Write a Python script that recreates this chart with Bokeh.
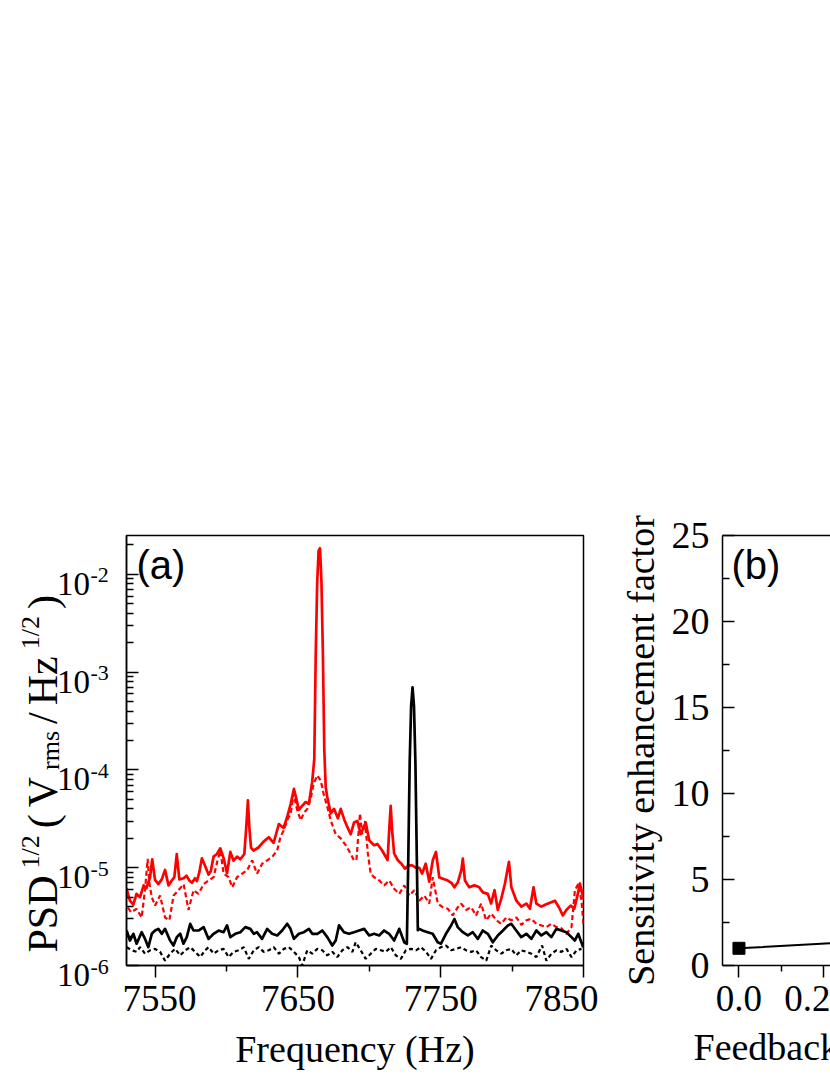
import math
from bokeh.plotting import figure
from bokeh.layouts import row, column
from bokeh.models import FixedTicker, Label, LinearAxis, PrintfTickFormatter, Title
from bokeh.core.properties import value
from bokeh.embed import file_html
from bokeh.resources import INLINE

SERIF = "Liberation Serif"
SANS = "Liberation Sans"

# ---------------- data: panel (a) ----------------
RED_SOLID_F = [7530, 7532.4, 7534.8, 7537, 7539.5, 7542, 7544, 7546.5, 7548, 7550, 7552.3, 7554.7, 7557,
               7559.4, 7561.7, 7563.5, 7565.2, 7567, 7570, 7572, 7574, 7575.8, 7578, 7579.3, 7581, 7582.8,
               7585, 7587.5, 7589, 7591, 7593.3, 7595.7, 7598, 7600.4, 7602.7, 7605, 7607.4, 7609.7, 7612.5,
               7614, 7615, 7616, 7617.2, 7619, 7622.6, 7626, 7629.6, 7633, 7636.7, 7640, 7642.5, 7645,
               7647.2, 7648.8, 7650.7, 7653, 7655.4, 7657.7, 7660, 7661.5, 7662.5, 7663.5, 7664.5, 7665.5,
               7666.5, 7667.5, 7668.5, 7669.5, 7670.6, 7673, 7675.3, 7678, 7680, 7682.5, 7684.7, 7687,
               7689.3, 7691.7, 7694, 7697.5, 7700, 7703.4, 7705.7, 7709, 7712.8, 7714, 7715, 7716, 7717.4,
               7720, 7722.5, 7725, 7727.5, 7730, 7732.5, 7735, 7737, 7739.5, 7742, 7744.5, 7746.7, 7749,
               7751.5, 7755, 7757.5, 7759.6, 7762, 7764.5, 7765.5, 7767, 7770, 7773.6, 7777, 7779.5, 7783,
               7785.3, 7787.7, 7790, 7792.4, 7795, 7797.8, 7799.5, 7803, 7806.5, 7810, 7812.5, 7815, 7817,
               7820.5, 7823.5, 7827, 7830, 7833, 7835.5, 7838, 7841, 7843.5, 7845.5, 7847.5, 7850]
RED_SOLID_V = [6.1e-6, 4.6e-6, 4.2e-6, 5.4e-6, 5.0e-6, 6.6e-6, 6.2e-6, 8.0e-6, 1.22e-5, 7.5e-6, 6.8e-6, 7.6e-6,
               9.5e-6, 6.6e-6, 7.4e-6, 8.0e-6, 1.38e-5, 7.6e-6, 7.8e-6, 8.3e-6, 7.4e-6, 7.0e-6, 7.8e-6, 7.3e-6,
               9.0e-6, 1.25e-5, 1.05e-5, 8.5e-6, 9.2e-6, 1.3e-5, 1.38e-5, 1.58e-5, 1.25e-5, 8.8e-6, 1.45e-5,
               1.18e-5, 1.3e-5, 1.22e-5, 1.38e-5, 2.8e-5, 4.9e-5, 2.6e-5, 1.6e-5, 1.5e-5, 1.62e-5, 1.85e-5,
               2.05e-5, 1.8e-5, 2.8e-5, 2.55e-5, 3.3e-5, 4.5e-5, 6.4e-5, 5.2e-5, 3.9e-5, 4.3e-5, 4.7e-5,
               4.5e-5, 7.5e-5, 1.3e-4, 1.5e-3, 8.0e-3, 1.75e-2, 1.85e-2, 8.5e-3, 1.6e-3, 1.6e-4, 6.6e-5,
               5.3e-5, 3.6e-5, 4.0e-5, 3.2e-5, 4.0e-5, 3.1e-5, 2.6e-5, 2.2e-5, 2.9e-5, 3.0e-5, 2.2e-5,
               2.9e-5, 1.9e-5, 1.7e-5, 1.75e-5, 1.5e-5, 1.2e-5, 2.5e-5, 4.3e-5, 2.4e-5, 1.4e-5, 1.19e-5,
               1.1e-5, 9.8e-6, 1.05e-5, 1.06e-5, 1.0e-5, 1.0e-5, 8.7e-6, 1.1e-5, 7.2e-6, 1.2e-5, 1.45e-5,
               8.0e-6, 7.7e-6, 7.4e-6, 7.0e-6, 6.3e-6, 7.1e-6, 9.5e-6, 1.24e-5, 7.4e-6, 6.3e-6, 6.6e-6,
               6.3e-6, 5.6e-6, 5.4e-6, 4.3e-6, 5.9e-6, 3.7e-6, 4.8e-6, 6.9e-6, 1.15e-5, 6.3e-6, 4.6e-6,
               4.0e-6, 4.3e-6, 3.8e-6, 6.3e-6, 4.3e-6, 4.0e-6, 4.2e-6, 4.4e-6, 4.6e-6, 3.9e-6, 3.25e-6,
               3.7e-6, 4.1e-6, 3.8e-6, 5.0e-6, 6.9e-6, 4.8e-6]

RED_DASH_F = [7531, 7533.3, 7537, 7540.6, 7543, 7544.8, 7546, 7547.7, 7550, 7553.5, 7557, 7560, 7563, 7566.4,
              7570, 7573.4, 7577, 7580.4, 7584, 7587.5, 7591, 7593.5, 7595.7, 7598, 7601.5, 7604, 7607.4, 7611,
              7614.4, 7618, 7621.4, 7625, 7628.5, 7632, 7635.5, 7637.8, 7640, 7642.5, 7645, 7647, 7649.5,
              7652, 7654, 7656.6, 7659, 7661, 7663.6, 7666, 7668, 7670.6, 7673, 7676.5, 7680, 7683.5, 7687,
              7689.3, 7691, 7693.5, 7695, 7697, 7699, 7701, 7703.4, 7707, 7710.4, 7714, 7717.4, 7721, 7724.5,
              7728, 7731.5, 7735, 7738.5, 7742, 7744.4, 7748, 7751.4, 7755, 7758.4, 7762, 7764.3, 7767.8,
              7771.3, 7774.8, 7778.3, 7781.8, 7785.4, 7789, 7792.4, 7796, 7799.4, 7803, 7806.5, 7810, 7813.5,
              7817, 7820.5, 7824, 7827.5, 7831, 7834.5, 7838, 7841.6, 7844, 7846.3, 7848.6, 7850]
RED_DASH_V = [3.9e-6, 3.5e-6, 3.8e-6, 3.1e-6, 6.0e-6, 1.23e-5, 7.0e-6, 5.0e-6, 4.1e-6, 5.2e-6, 3.1e-6, 2.9e-6,
              5.2e-6, 5.9e-6, 6.8e-6, 3.7e-6, 5.9e-6, 5.4e-6, 6.8e-6, 7.4e-6, 8.0e-6, 1.15e-5, 1.5e-5, 8.7e-6,
              8.0e-6, 6.3e-6, 8.0e-6, 8.7e-6, 9.4e-6, 1.19e-5, 8.7e-6, 1.1e-5, 1.19e-5, 1.29e-5, 1.5e-5,
              2.06e-5, 2.4e-5, 3.05e-5, 3.6e-5, 5.7e-5, 3.9e-5, 3.05e-5, 3.6e-5, 4.0e-5, 5.1e-5, 7.2e-5,
              8.8e-5, 7.8e-5, 5.7e-5, 4.2e-5, 3.05e-5, 2.2e-5, 2.0e-5, 1.7e-5, 1.39e-5, 1.19e-5, 1.2e-5,
              3.6e-5, 2.2e-5, 3.0e-5, 1.4e-5, 8.7e-6, 8.0e-6, 7.4e-6, 6.6e-6, 7.4e-6, 6.1e-6, 5.4e-6,
              6.6e-6, 5.2e-6, 5.9e-6, 4.6e-6, 5.2e-6, 4.3e-6, 8.0e-6, 4.3e-6, 3.95e-6, 3.8e-6, 3.25e-6,
              3.95e-6, 4.3e-6, 3.7e-6, 3.95e-6, 3.25e-6, 4.3e-6, 2.9e-6, 3.4e-6, 2.9e-6, 2.67e-6, 3.1e-6,
              2.9e-6, 3.1e-6, 2.6e-6, 2.9e-6, 3.0e-6, 2.67e-6, 2.57e-6, 2.47e-6, 2.67e-6, 2.47e-6, 2.4e-6,
              2.1e-6, 2.47e-6, 5.9e-6, 6.8e-6, 4.6e-6, 2.6e-6]

BLACK_SOLID_F = [7530.1, 7532.4, 7534.8, 7537.1, 7540.6, 7543, 7545.3, 7547.7, 7550, 7552.3, 7554.7, 7557,
                 7560.5, 7562.9, 7565.2, 7567.6, 7569.9, 7572.2, 7574.6, 7576.9, 7580.4, 7584, 7587.5, 7591,
                 7594.5, 7598, 7600.4, 7602.7, 7606.2, 7609.7, 7613.2, 7616.7, 7619.1, 7621.4, 7624.9, 7628.5,
                 7632, 7635.5, 7639, 7642.5, 7644.8, 7647.2, 7650.7, 7654.2, 7657.7, 7660.1, 7663.6, 7667.1,
                 7670.6, 7674.1, 7676.5, 7678.8, 7682.3, 7685.8, 7689.3, 7692.9, 7696.4, 7699.9, 7703.4,
                 7706.9, 7710.4, 7713.9, 7717.4, 7721, 7724.5, 7726.3, 7727.3, 7728.3, 7729.3, 7730.3,
                 7731.3, 7732.3, 7733.3, 7734, 7735, 7737.3, 7740.9, 7744.4, 7747.9, 7750.2, 7753.7, 7757.3,
                 7759.6, 7761.9, 7765.5, 7769, 7772.5, 7776, 7779.5, 7783, 7786.5, 7790, 7793.6, 7797.1,
                 7799.4, 7802.9, 7806.4, 7810, 7813.5, 7817, 7820.5, 7824, 7827.5, 7831, 7834.5, 7838,
                 7841.6, 7843.9, 7846.3, 7849.8]
BLACK_SOLID_V = [2.28e-6, 1.80e-6, 2.11e-6, 1.67e-6, 2.19e-6, 1.87e-6, 1.54e-6, 2.11e-6, 2.28e-6, 2.37e-6,
                 2.11e-6, 2.37e-6, 1.80e-6, 1.60e-6, 1.95e-6, 2.11e-6, 1.67e-6, 1.95e-6, 2.67e-6, 2.28e-6,
                 2.28e-6, 2.47e-6, 1.87e-6, 2.11e-6, 2.28e-6, 2.19e-6, 2.57e-6, 1.95e-6, 2.11e-6, 2.19e-6,
                 2.47e-6, 2.37e-6, 2.11e-6, 2.19e-6, 1.87e-6, 2.37e-6, 2.11e-6, 2.03e-6, 2.28e-6, 2.67e-6,
                 2.37e-6, 1.87e-6, 2.11e-6, 2.19e-6, 2.37e-6, 2.11e-6, 2.11e-6, 2.28e-6, 1.95e-6, 1.60e-6,
                 1.80e-6, 2.57e-6, 2.19e-6, 2.11e-6, 2.19e-6, 2.28e-6, 2.37e-6, 2.03e-6, 2.11e-6, 2.03e-6,
                 2.28e-6, 2.11e-6, 1.80e-6, 2.37e-6, 1.73e-6, 1.67e-6, 1.2e-5, 1.2e-4, 4.5e-4, 7.0e-4,
                 4.5e-4, 1.2e-4, 1.2e-5, 2.3e-6, 2.37e-6, 2.28e-6, 2.19e-6, 2.11e-6, 1.73e-6, 1.67e-6,
                 2.11e-6, 2.57e-6, 2.99e-6, 2.47e-6, 2.19e-6, 2.03e-6, 2.19e-6, 1.87e-6, 2.28e-6, 2.11e-6,
                 1.73e-6, 2.03e-6, 2.28e-6, 2.57e-6, 2.67e-6, 2.28e-6, 1.95e-6, 2.11e-6, 1.87e-6, 2.28e-6,
                 2.03e-6, 2.19e-6, 1.95e-6, 2.37e-6, 2.28e-6, 2.19e-6, 1.95e-6, 1.80e-6, 2.11e-6, 1.54e-6]

BLACK_DASH_F = [7530.1, 7533.6, 7537.1, 7539.5, 7543, 7546.5, 7550, 7553.5, 7557, 7560.5, 7564.1, 7567.6,
                7571.1, 7574.6, 7578.1, 7581.6, 7585.1, 7587.5, 7591, 7594.5, 7598, 7601.5, 7605, 7608.5,
                7612.1, 7615.6, 7619.1, 7622.6, 7626.1, 7629.6, 7633.1, 7636.7, 7640.2, 7643.7, 7647.2,
                7650.7, 7653, 7656.6, 7660.1, 7663.6, 7667.1, 7670.6, 7674.1, 7677.6, 7681.1, 7684.7,
                7688.2, 7690.5, 7694, 7697.5, 7701, 7704.6, 7708.1, 7711.6, 7715.1, 7718.6, 7722.1, 7725.6,
                7729.2, 7732.7, 7736.2, 7739.7, 7743.2, 7746.7, 7750.2, 7753.7, 7757.3, 7760.8, 7764.3,
                7767.8, 7771.3, 7774.8, 7778.3, 7781.9, 7785.4, 7788.9, 7792.4, 7795.9, 7799.4, 7802.9,
                7806.4, 7810, 7813.5, 7817, 7821, 7824, 7827.5, 7831, 7834.5, 7838.1, 7841.6, 7845.1, 7848.6]
BLACK_DASH_V = [1.54e-6, 1.43e-6, 1.38e-6, 1.54e-6, 1.32e-6, 1.43e-6, 1.48e-6, 1.38e-6, 1.12e-6, 1.32e-6,
                1.48e-6, 1.27e-6, 1.43e-6, 1.54e-6, 1.38e-6, 1.22e-6, 1.43e-6, 1.54e-6, 1.32e-6, 1.43e-6,
                1.48e-6, 1.22e-6, 1.38e-6, 1.43e-6, 1.54e-6, 1.17e-6, 1.43e-6, 1.54e-6, 1.38e-6, 1.43e-6,
                1.54e-6, 1.32e-6, 1.48e-6, 1.54e-6, 1.38e-6, 1.22e-6, 1.0e-6, 1.43e-6, 1.32e-6, 1.48e-6,
                1.43e-6, 1.27e-6, 1.38e-6, 1.22e-6, 1.43e-6, 1.54e-6, 1.38e-6, 1.73e-6, 1.43e-6, 1.17e-6,
                1.32e-6, 1.48e-6, 1.43e-6, 1.38e-6, 1.54e-6, 1.27e-6, 1.17e-6, 1.43e-6, 1.48e-6, 1.43e-6,
                1.54e-6, 1.38e-6, 1.17e-6, 1.43e-6, 1.54e-6, 1.60e-6, 1.43e-6, 1.48e-6, 1.54e-6, 1.43e-6,
                1.38e-6, 1.43e-6, 1.22e-6, 1.12e-6, 1.60e-6, 1.43e-6, 1.32e-6, 1.43e-6, 1.48e-6, 1.27e-6,
                1.43e-6, 1.38e-6, 1.32e-6, 1.22e-6, 1.60e-6, 1.12e-6, 1.32e-6, 1.43e-6, 1.38e-6, 1.48e-6,
                1.22e-6, 1.43e-6, 1.48e-6]

A_XRANGE = (7530, 7850)
A_YRANGE = (1e-6, 2.5e-2)
A_XTICKS = [7550, 7650, 7750, 7850]
A_XMINOR = [7600, 7700, 7800]
A_YEXP = [-6, -5, -4, -3, -2]
A_YMINOR = [k * 10.0 ** e for e in [-6, -5, -4, -3, -2] for k in range(2, 10)]

# ---------------- data: panel (b) ----------------
B_GAIN = [0.0, 0.3, 0.5, 0.7, 0.8, 0.9]
B_FACTOR = [1.0, 1.4, 2.0, 3.3, 5.0, 10.0]
B_XRANGE = (-0.039, 0.217)
B_YRANGE = (0, 25)
B_XTICKS = [0.0, 0.2, 0.4, 0.6, 0.8, 1.0]
B_XMINOR = [0.1, 0.3, 0.5, 0.7, 0.9]
B_YTICKS = [0, 5, 10, 15, 20, 25]
B_YMINOR = [2.5, 7.5, 12.5, 17.5, 22.5]

# ---------------- layout (pixels) ----------------
H = 1075
FRAME_TOP, FRAME_BOTTOM = 535, 965
LEFT_W = 122           # strip holding the y labels and y title of panel (a)
A_W, B_W = 476, 232
LW = 1.5


def style_axis(ax, tick_in, tick_out, minor_in, minor_out, label_size):
    ax.axis_line_width = LW
    ax.axis_line_color = "black"
    ax.major_tick_line_width = LW
    ax.minor_tick_line_width = LW
    ax.major_tick_line_color = "black"
    ax.minor_tick_line_color = "black"
    ax.major_tick_in = tick_in
    ax.major_tick_out = tick_out
    ax.minor_tick_in = minor_in
    ax.minor_tick_out = minor_out
    ax.major_label_text_font = SERIF
    ax.major_label_text_font_size = label_size
    ax.major_label_text_color = "black"
    ax.axis_label_text_font = SERIF
    ax.axis_label_text_font_style = "normal"
    ax.axis_label_text_color = "black"


# ================= strip with the y labels / title of panel (a) =================
pl = figure(width=LEFT_W, height=H, x_range=(0, LEFT_W), y_range=(H, 0),
            x_axis_location=None, y_axis_location=None,
            output_backend="svg", toolbar_location=None, min_border=0)
pl.grid.visible = False
pl.outline_line_color = None
pl.background_fill_color = "white"
pl.border_fill_color = "white"

LOG0, LOG1 = math.log10(A_YRANGE[0]), math.log10(A_YRANGE[1])


def ypix(v):
    return FRAME_BOTTOM - (math.log10(v) - LOG0) / (LOG1 - LOG0) * (FRAME_BOTTOM - FRAME_TOP)


tick_y = [ypix(10.0 ** e) for e in A_YEXP]
pl.text(x=[89.5] * len(A_YEXP), y=[t + 9.5 for t in tick_y], text=["10"] * len(A_YEXP),
        text_align="right", text_baseline="alphabetic", text_font=value(SERIF),
        text_font_size=value("33px"), text_color="black")
pl.text(x=[90] * len(A_YEXP), y=[t + 1 for t in tick_y], text=["-%d" % abs(e) for e in A_YEXP],
        text_align="left", text_baseline="alphabetic", text_font=value(SERIF),
        text_font_size=value("22px"), text_color="black")

# PSD^{1/2}(V_rms/Hz^{1/2}), written bottom-to-top
TW = {'P': 556, 'S': 556, 'D': 722, '1': 500, '/': 278, '2': 500, '(': 333, ')': 333,
      'V': 722, 'r': 333, 'm': 778, 's': 389, 'H': 722, 'z': 444}
pieces = [("PSD", 42, 0), ("1/2", 26, -12), ("(", 42, 0), ("V", 42, 0), ("rms", 26, 8),
          ("/", 42, 0), ("Hz", 42, 0), ("1/2", 26, -12), (")", 42, 0)]
base_x, pos, gap = 42, 952, 7
for txt, fs, shift in pieces:
    pl.text(x=[base_x + shift], y=[pos], text=[txt], angle=math.pi / 2, text_align="left",
            text_baseline="alphabetic", text_font=value(SERIF), text_font_size=value("%dpx" % fs),
            text_color="black")
    pos -= sum(TW[c] for c in txt) / 1000.0 * fs + gap

# ================= panel (a) =================
pa = figure(width=A_W, height=H, x_range=A_XRANGE, y_range=A_YRANGE, y_axis_type="log",
            output_backend="svg", toolbar_location=None,
            min_border_left=126 - LEFT_W, min_border_right=15, min_border_top=FRAME_TOP,
            min_border_bottom=H - FRAME_BOTTOM)
pa.grid.visible = False
pa.outline_line_color = "black"
pa.outline_line_width = LW
pa.outline_line_alpha = 1.0
pa.background_fill_color = "white"
pa.border_fill_color = "white"

xa = pa.xaxis[0]
xa.ticker = FixedTicker(ticks=A_XTICKS, minor_ticks=A_XMINOR)
style_axis(xa, 0, 12, 0, 6, "37px")
xa.major_label_standoff = 8
xa.axis_label = "Frequency (Hz)"
xa.axis_label_text_font_size = "38px"
xa.axis_label_standoff = 14

ya = pa.yaxis[0]
ya.ticker = FixedTicker(ticks=[10.0 ** e for e in A_YEXP], minor_ticks=A_YMINOR)
style_axis(ya, 12, 0, 7, 0, "0px")
ya.major_label_standoff = 0
ya.major_label_text_color = None

pa.line(RED_DASH_F, RED_DASH_V, line_color="#ff0000", line_width=2.2, line_dash="5 3")
pa.line(RED_SOLID_F, RED_SOLID_V, line_color="#ff0000", line_width=2.7, line_join="round")
pa.line(BLACK_DASH_F, BLACK_DASH_V, line_color="black", line_width=2.2, line_dash="4 3")
pa.line(BLACK_SOLID_F, BLACK_SOLID_V, line_color="black", line_width=2.7, line_join="round")

pa.add_layout(Label(x=A_XRANGE[0], y=A_YRANGE[1], x_offset=10, y_offset=-29, text="(a)",
                    text_align="left", text_baseline="alphabetic", text_font=SANS,
                    text_font_size="40px", text_color="black"))

# ================= panel (b) =================
pb = figure(width=B_W, height=H, x_range=B_XRANGE, y_range=B_YRANGE,
            output_backend="svg", toolbar_location=None,
            min_border_left=124, min_border_right=0, min_border_top=FRAME_TOP,
            min_border_bottom=H - FRAME_BOTTOM)
pb.grid.visible = False
pb.outline_line_color = None
pb.background_fill_color = "white"
pb.border_fill_color = "white"

xb = pb.xaxis[0]
xb.ticker = FixedTicker(ticks=B_XTICKS, minor_ticks=B_XMINOR)
xb.formatter = PrintfTickFormatter(format="%.1f")
style_axis(xb, 0, 12, 0, 6, "37px")
xb.major_label_standoff = 8
xb.axis_label = " "
xb.axis_label_text_font_size = "8px"
xb.axis_label_standoff = 0

yb = pb.yaxis[0]
yb.ticker = FixedTicker(ticks=B_YTICKS, minor_ticks=B_YMINOR)
style_axis(yb, 12, 0, 7, 0, "38px")
yb.major_label_standoff = 13
yb.axis_label = "Sensitivity enhancement factor"
yb.axis_label_text_font_size = "38px"
yb.axis_label_standoff = 7

top = LinearAxis(ticker=FixedTicker(ticks=[]), major_tick_in=0, major_tick_out=0,
                 minor_tick_in=0, minor_tick_out=0, major_label_text_font_size="0px",
                 major_label_text_color=None, axis_line_width=LW, axis_line_color="black")
pb.add_layout(top, "above")

pb.add_layout(Title(text="Feedback gain", align="left", offset=-29, standoff=0, vertical_align="top",
                    text_font=SERIF, text_font_size="38px", text_font_style="normal",
                    text_color="black"), "below")

pb.line(B_GAIN, B_FACTOR, line_color="black", line_width=2)
pb.scatter(B_GAIN, B_FACTOR, marker="square", size=12, fill_color="black", line_color="black")

pb.add_layout(Label(x=B_XRANGE[0], y=B_YRANGE[1], x_offset=9, y_offset=-29, text="(b)",
                    text_align="left", text_baseline="alphabetic", text_font=SANS,
                    text_font_size="40px", text_color="black"))

layout = row(column(pl), pa, pb)
open("out.html", "w").write(file_html(layout, INLINE))
